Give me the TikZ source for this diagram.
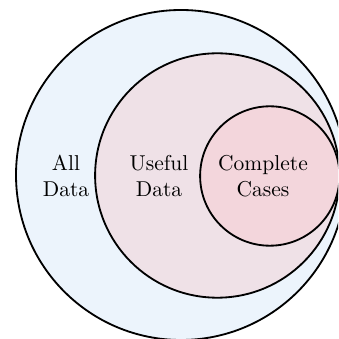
\documentclass[tikz,border=0pt]{standalone}
\begin{document}
\begin{tikzpicture}[x=0.465pt,y=-0.465pt,
  ring/.style={draw=black,line width=0.85pt},
  lbl/.style={align=center,inner sep=0pt}]
\definecolor{cAll}{RGB}{236,244,252}
\definecolor{cUse}{RGB}{239,225,231}
\definecolor{cComp}{RGB}{243,214,220}
\useasboundingbox (0,0) rectangle (338,339);
\clip (0,0) rectangle (338,339);
\path[ring,fill=cAll] (181,175) circle[radius=165];
\path[ring,fill=cUse] (217.3,175.5) circle[radius=122.2];
\path[ring,fill=cComp] (269.8,176) circle[radius=69.7];
\node[lbl] (all) at (66,176) {All\\Data};
\node[lbl] (useful) at (159,176) {Useful\\Data};
\node[lbl] (complete) at (263,176) {Complete\\Cases};
\end{tikzpicture}
\end{document}
